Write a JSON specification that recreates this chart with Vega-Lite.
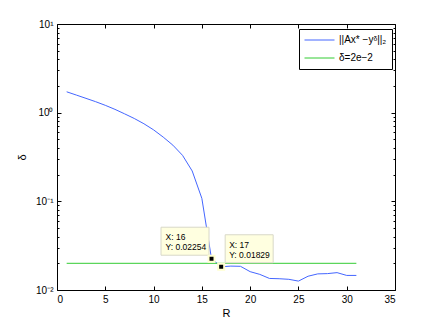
{
  "$schema": "https://vega.github.io/schema/vega-lite/v6.json",
  "width": 338,
  "height": 266,
  "autosize": {"type": "none"},
  "padding": {"left": 57, "top": 24, "right": 41, "bottom": 37},
  "background": "white",
  "config": {
    "font": "Liberation Sans",
    "view": {"stroke": "black", "strokeWidth": 1},
    "axis": {"domainColor": "black", "tickColor": "black", "labelColor": "black", "titleColor": "black", "grid": false, "labelFont": "Liberation Sans", "titleFont": "Liberation Sans", "labelFontSize": 10, "titleFontSize": 11, "titleFontWeight": "normal"}
  },
  "datasets": {
    "lines": [
      {"R": 1, "v": 1.72, "s": "||Ax* −yᵟ||₂"},
      {"R": 2, "v": 1.58, "s": "||Ax* −yᵟ||₂"},
      {"R": 3, "v": 1.45, "s": "||Ax* −yᵟ||₂"},
      {"R": 4, "v": 1.33, "s": "||Ax* −yᵟ||₂"},
      {"R": 5, "v": 1.21, "s": "||Ax* −yᵟ||₂"},
      {"R": 6, "v": 1.09, "s": "||Ax* −yᵟ||₂"},
      {"R": 7, "v": 0.97, "s": "||Ax* −yᵟ||₂"},
      {"R": 8, "v": 0.86, "s": "||Ax* −yᵟ||₂"},
      {"R": 9, "v": 0.75, "s": "||Ax* −yᵟ||₂"},
      {"R": 10, "v": 0.64, "s": "||Ax* −yᵟ||₂"},
      {"R": 11, "v": 0.53, "s": "||Ax* −yᵟ||₂"},
      {"R": 12, "v": 0.43, "s": "||Ax* −yᵟ||₂"},
      {"R": 13, "v": 0.33, "s": "||Ax* −yᵟ||₂"},
      {"R": 14, "v": 0.22, "s": "||Ax* −yᵟ||₂"},
      {"R": 15, "v": 0.108, "s": "||Ax* −yᵟ||₂"},
      {"R": 16, "v": 0.02254, "s": "||Ax* −yᵟ||₂"},
      {"R": 17, "v": 0.01829, "s": "||Ax* −yᵟ||₂"},
      {"R": 18, "v": 0.0186, "s": "||Ax* −yᵟ||₂"},
      {"R": 19, "v": 0.0185, "s": "||Ax* −yᵟ||₂"},
      {"R": 20, "v": 0.0161, "s": "||Ax* −yᵟ||₂"},
      {"R": 21, "v": 0.015, "s": "||Ax* −yᵟ||₂"},
      {"R": 22, "v": 0.0135, "s": "||Ax* −yᵟ||₂"},
      {"R": 23, "v": 0.0134, "s": "||Ax* −yᵟ||₂"},
      {"R": 24, "v": 0.0132, "s": "||Ax* −yᵟ||₂"},
      {"R": 25, "v": 0.0126, "s": "||Ax* −yᵟ||₂"},
      {"R": 26, "v": 0.0143, "s": "||Ax* −yᵟ||₂"},
      {"R": 27, "v": 0.0152, "s": "||Ax* −yᵟ||₂"},
      {"R": 28, "v": 0.0153, "s": "||Ax* −yᵟ||₂"},
      {"R": 29, "v": 0.0157, "s": "||Ax* −yᵟ||₂"},
      {"R": 30, "v": 0.0146, "s": "||Ax* −yᵟ||₂"},
      {"R": 31, "v": 0.0146, "s": "||Ax* −yᵟ||₂"},
      {"R": 1, "v": 0.02, "s": "δ=2e−2"},
      {"R": 31, "v": 0.02, "s": "δ=2e−2"}
    ],
    "tips": [
      {"R": 16, "v": 0.02254, "label": ["X: 16", "Y: 0.02254"]},
      {"R": 17, "v": 0.01829, "label": ["X: 17", "Y: 0.01829"]}
    ]
  },
  "resolve": {"axis": {"x": "independent", "y": "independent"}},
  "layer": [
    {
      "data": {"name": "lines"},
      "mark": {"type": "line", "strokeWidth": 1, "clip": true},
      "encoding": {
        "x": {"field": "R", "type": "quantitative", "scale": {"domain": [0, 35], "nice": false, "zero": false},
          "axis": {"orient": "bottom", "values": [0, 5, 10, 15, 20, 25, 30, 35], "tickSize": -4, "labelPadding": 8, "title": "R", "titlePadding": 3, "domain": false}},
        "y": {"field": "v", "type": "quantitative", "scale": {"type": "log", "domain": [0.01, 10], "nice": false},
          "axis": {"orient": "left", "domain": false,
            "values": [0.01, 0.02, 0.03, 0.04, 0.05, 0.06, 0.07, 0.08, 0.09, 0.1, 0.2, 0.3, 0.4, 0.5, 0.6, 0.7, 0.8, 0.9, 1, 2, 3, 4, 5, 6, 7, 8, 9, 10],
            "labelExpr": "datum.value == 10 ? '10¹' : datum.value == 1 ? '10⁰' : datum.value == 0.1 ? '10⁻¹' : datum.value == 0.01 ? '10⁻²' : ''",
            "tickSize": {"condition": {"test": "abs(log(datum.value)/LN10 - round(log(datum.value)/LN10)) < 0.001", "value": -4}, "value": -2},
            "labelPadding": 8, "title": "δ", "titlePadding": 8, "titleAngle": -90}},
        "color": {"field": "s", "type": "nominal",
          "scale": {"domain": ["||Ax* −yᵟ||₂", "δ=2e−2"], "range": ["#4466ff", "#33cc33"]},
          "legend": {"title": null, "orient": "none", "legendX": 242, "legendY": 5, "symbolType": "stroke", "symbolSize": 900, "symbolStrokeWidth": 1, "clipHeight": 12,
            "strokeColor": "black", "fillColor": "white", "padding": 5, "labelFontSize": 10, "labelFont": "Liberation Sans", "labelColor": "black", "rowPadding": 6, "labelOffset": 4}}
      }
    },
    {
      "data": {"name": "lines"},
      "mark": {"type": "line", "opacity": 0},
      "encoding": {
        "x": {"field": "R", "type": "quantitative", "scale": {"domain": [0, 35], "nice": false, "zero": false},
          "axis": {"orient": "top", "values": [0, 5, 10, 15, 20, 25, 30, 35], "tickSize": -4, "labels": false, "title": null, "domain": false}},
        "y": {"field": "v", "type": "quantitative", "scale": {"type": "log", "domain": [0.01, 10], "nice": false},
          "axis": {"orient": "right", "domain": false, "labels": false, "title": null,
            "values": [0.01, 0.02, 0.03, 0.04, 0.05, 0.06, 0.07, 0.08, 0.09, 0.1, 0.2, 0.3, 0.4, 0.5, 0.6, 0.7, 0.8, 0.9, 1, 2, 3, 4, 5, 6, 7, 8, 9, 10],
            "tickSize": {"condition": {"test": "abs(log(datum.value)/LN10 - round(log(datum.value)/LN10)) < 0.001", "value": -4}, "value": -2}}}
      }
    },
    {
      "data": {"name": "tips"},
      "transform": [{"filter": "datum.R == 16"}],
      "mark": {"type": "rect", "width": 48, "height": 28, "xOffset": -26.5, "yOffset": -17.5, "fill": "#ffffe0", "stroke": "#d8d8c8", "strokeWidth": 1},
      "encoding": {
        "x": {"field": "R", "type": "quantitative", "axis": null},
        "y": {"field": "v", "type": "quantitative", "axis": null}
      }
    },
    {
      "data": {"name": "tips"},
      "transform": [{"filter": "datum.R == 16"}],
      "mark": {"type": "text", "align": "left", "baseline": "middle", "dx": -46, "dy": -22, "fontSize": 8.5, "lineHeight": 10, "color": "black"},
      "encoding": {
        "x": {"field": "R", "type": "quantitative", "axis": null},
        "y": {"field": "v", "type": "quantitative", "axis": null},
        "text": {"field": "label"}
      }
    },
    {
      "data": {"name": "tips"},
      "transform": [{"filter": "datum.R == 17"}],
      "mark": {"type": "rect", "width": 48, "height": 28, "xOffset": 28, "yOffset": -18, "fill": "#ffffe0", "stroke": "#d8d8c8", "strokeWidth": 1},
      "encoding": {
        "x": {"field": "R", "type": "quantitative", "axis": null},
        "y": {"field": "v", "type": "quantitative", "axis": null}
      }
    },
    {
      "data": {"name": "tips"},
      "transform": [{"filter": "datum.R == 17"}],
      "mark": {"type": "text", "align": "left", "baseline": "middle", "dx": 8, "dy": -22, "fontSize": 8.5, "lineHeight": 10, "color": "black"},
      "encoding": {
        "x": {"field": "R", "type": "quantitative", "axis": null},
        "y": {"field": "v", "type": "quantitative", "axis": null},
        "text": {"field": "label"}
      }
    },
    {
      "data": {"name": "tips"},
      "mark": {"type": "point", "shape": "square", "size": 36, "filled": true, "fill": "black", "stroke": "#ffffd0", "strokeWidth": 2, "opacity": 1},
      "encoding": {
        "x": {"field": "R", "type": "quantitative", "axis": null},
        "y": {"field": "v", "type": "quantitative", "axis": null}
      }
    }
  ]
}
